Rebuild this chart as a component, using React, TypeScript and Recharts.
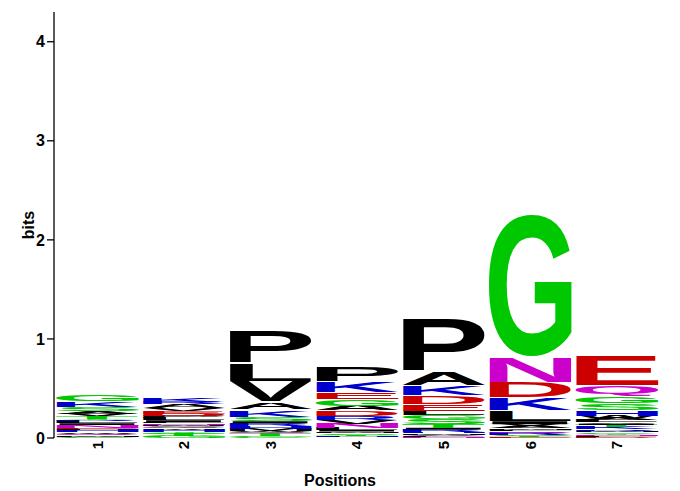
import React from "react"
import { Bar, BarChart, XAxis, YAxis } from "recharts"

const FONT = '"Liberation Sans", Arial, Helvetica, sans-serif'

const positions = ["1", "2", "3", "4", "5", "6", "7"]
const yTicks = [0, 1, 2, 3, 4]

// letter heights in bits, bottom -> top for each position
const pos1: [string, number][] = [
  ["C", 0.015], ["M", 0.015], ["Q", 0.015], ["W", 0.015], ["H", 0.02], ["F", 0.015],
  ["E", 0.01], ["N", 0.025], ["I", 0.02], ["L", 0.02], ["R", 0.01], ["Y", 0.015],
  ["T", 0.03], ["V", 0.02], ["A", 0.03], ["S", 0.04], ["K", 0.055], ["G", 0.08],
]
const pos2: [string, number][] = [
  ["G", 0.02], ["T", 0.02], ["C", 0.01], ["Y", 0.01], ["H", 0.02], ["W", 0.015],
  ["Q", 0.015], ["S", 0.015], ["M", 0.01], ["N", 0.015], ["F", 0.01], ["I", 0.02],
  ["L", 0.02], ["P", 0.02], ["D", 0.025], ["E", 0.03], ["V", 0.025], ["A", 0.04],
  ["R", 0.02], ["K", 0.04],
]
const pos3: [string, number][] = [
  ["C", 0.01], ["G", 0.015], ["T", 0.02], ["Q", 0.015], ["W", 0.015], ["M", 0.02],
  ["H", 0.025], ["R", 0.03], ["I", 0.02], ["S", 0.04], ["K", 0.08], ["A", 0.08],
  ["V", 0.21], ["L", 0.18], ["P", 0.32],
]
const pos4: [string, number][] = [
  ["Q", 0.005], ["F", 0.01], ["H", 0.01], ["T", 0.01], ["S", 0.015], ["M", 0.015],
  ["I", 0.015], ["L", 0.02], ["N", 0.045], ["V", 0.04], ["R", 0.04], ["D", 0.055],
  ["A", 0.045], ["G", 0.07], ["E", 0.07], ["K", 0.11], ["P", 0.15],
]
const pos5: [string, number][] = [
  ["N", 0.01], ["F", 0.01], ["V", 0.015], ["M", 0.015], ["H", 0.015], ["R", 0.02],
  ["I", 0.02], ["T", 0.04], ["S", 0.045], ["G", 0.04], ["L", 0.045], ["E", 0.07],
  ["D", 0.09], ["K", 0.1], ["A", 0.14], ["P", 0.53],
]
const pos6: [string, number][] = [
  ["E", 0.01], ["T", 0.01], ["S", 0.01], ["R", 0.02], ["Q", 0.02], ["F", 0.015],
  ["M", 0.015], ["A", 0.02], ["V", 0.02], ["I", 0.03], ["L", 0.11], ["K", 0.13],
  ["D", 0.16], ["N", 0.26], ["G", 1.44],
]
const pos7: [string, number][] = [
  ["D", 0.01], ["F", 0.01], ["N", 0.01], ["Y", 0.015], ["C", 0.015], ["M", 0.015],
  ["R", 0.015], ["K", 0.02], ["T", 0.02], ["I", 0.015], ["V", 0.015], ["L", 0.02],
  ["A", 0.02], ["W", 0.02], ["H", 0.065], ["S", 0.07], ["G", 0.07], ["Q", 0.11],
  ["E", 0.3],
]
const columns = [pos1, pos2, pos3, pos4, pos5, pos6, pos7]

const GREEN = "#00C800"
const MAGENTA = "#CC00CC"
const RED = "#CC0000"
const BLUE = "#0000CC"
const BLACK = "#000000"

const letterColors: Record<string, string> = {
  G: GREEN, S: GREEN, T: GREEN, Y: GREEN, C: GREEN,
  N: MAGENTA, Q: MAGENTA,
  K: BLUE, R: BLUE, H: BLUE,
  D: RED, E: RED,
  A: BLACK, V: BLACK, L: BLACK, I: BLACK, P: BLACK, W: BLACK, F: BLACK, M: BLACK,
}

const maxSlots = Math.max(...columns.map((c) => c.length))
const slots = Array.from({ length: maxSlots }, (_, i) => i)

const data = positions.map((p, i) => {
  const row: Record<string, string | number> = { pos: p }
  columns[i].forEach(([letter, bits], k) => {
    row[`h${k}`] = bits
    row[`l${k}`] = letter
  })
  return row
})

// ink box of each glyph, measured once
const boxCache: Record<string, { l: number; r: number; a: number; d: number }> = {}
const glyphBox = (ch: string) => {
  if (!boxCache[ch]) {
    const ctx = document.createElement("canvas").getContext("2d")
    let box = { l: -6, r: 66, a: 72, d: 0 }
    if (ctx) {
      ctx.font = `bold 100px ${FONT}`
      const m = ctx.measureText(ch)
      if (m.actualBoundingBoxRight + m.actualBoundingBoxLeft > 0) {
        box = {
          l: m.actualBoundingBoxLeft,
          r: m.actualBoundingBoxRight,
          a: m.actualBoundingBoxAscent,
          d: m.actualBoundingBoxDescent,
        }
      }
    }
    boxCache[ch] = box
  }
  return boxCache[ch]
}

const Letter = (props: any) => {
  const { x, width, index, slot } = props
  let { y, height } = props
  const row = props.payload ?? data[index]
  const ch = row?.[`l${slot}`] as string | undefined
  if (!ch || !(height > 0) || !(width > 0)) return null
  // big letters get a thin white gap above them, like the original
  if (height > 6) {
    y += 1
    height -= 1
  }
  const b = glyphBox(ch)
  const sx = width / (b.l + b.r)
  const sy = height / (b.a + b.d)
  return (
    <text
      transform={`translate(${x},${y}) scale(${sx},${sy}) translate(${b.l},${b.a})`}
      fontFamily={FONT}
      fontWeight="bold"
      fontSize={100}
      fill={letterColors[ch]}
    >
      {ch}
    </text>
  )
}

const PosTick = (props: any) => {
  const { x, y, payload } = props
  return (
    <text
      x={x}
      y={y}
      dy="0.36em"
      transform={`rotate(-90, ${x}, ${y})`}
      textAnchor="end"
      fontFamily={FONT}
      fontWeight="bold"
      fontSize={15}
      fill="#000"
    >
      {payload.value}
    </text>
  )
}

export default function App() {
  return (
    <div style={{ position: "absolute", left: 0, top: 0, background: "#fff" }}>
      <BarChart
        width={680}
        height={491}
        data={data}
        margin={{ top: 12, right: 20, left: 0, bottom: 0 }}
        barCategoryGap={2}
        barGap={0}
      >
        <XAxis
          dataKey="pos"
          height={53}
          axisLine={false}
          tickLine={false}
          tickSize={0}
          tickMargin={3}
          interval={0}
          tick={<PosTick />}
          label={{
            content: () => (
              <text x={340} y={486} textAnchor="middle" fontFamily={FONT} fontWeight="bold" fontSize={16} fill="#000">
                Positions
              </text>
            ),
          }}
        />
        <YAxis
          width={54}
          domain={[0, 4.3]}
          ticks={yTicks}
          allowDataOverflow
          axisLine={{ stroke: "#000", strokeWidth: 1.3 }}
          tickLine={{ stroke: "#000", strokeWidth: 1.3 }}
          tickSize={7}
          tickMargin={2}
          tick={{ fill: "#000", fontSize: 16, fontWeight: "bold", fontFamily: FONT }}
          label={{
            content: (p: any) => {
              const vb = p.viewBox
              const cx = vb.x + 34
              const cy = vb.y + vb.height / 2
              return (
                <text
                  x={cx}
                  y={cy}
                  transform={`rotate(-90, ${cx}, ${cy})`}
                  textAnchor="middle"
                  fontFamily={FONT}
                  fontWeight="bold"
                  fontSize={16}
                  fill="#000"
                >
                  bits
                </text>
              )
            },
          }}
        />
        {slots.map((i) => (
          <Bar
            key={i}
            dataKey={`h${i}`}
            stackId="logo"
            isAnimationActive={false}
            shape={(p: any) => <Letter {...p} slot={i} />}
          />
        ))}
      </BarChart>
    </div>
  )
}
